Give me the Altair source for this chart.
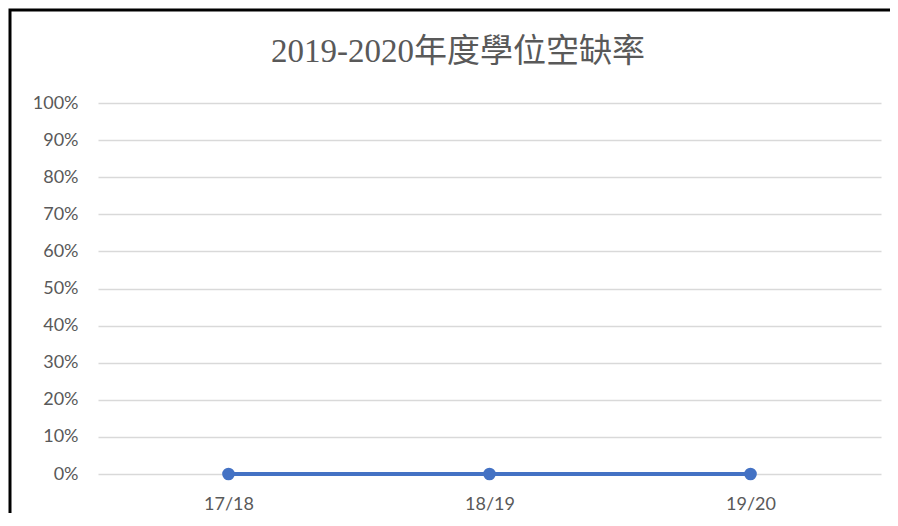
import altair as alt
import pandas as pd

title_text = "2019-2020年度學位空缺率"
years = ["17/18", "18/19", "19/20"]
vacancy = [0.0, 0.0, 0.0]
y_ticks = [0, 0.1, 0.2, 0.3, 0.4, 0.5, 0.6, 0.7, 0.8, 0.9, 1.0]

df = pd.DataFrame({"year": years, "rate": vacancy})

BLUE = "#4472C4"
GREY = "#595959"
LABEL_FONT = "Lato"

base = alt.Chart(df)

line = base.mark_line(color=BLUE, strokeWidth=4, point=alt.OverlayMarkDef(color=BLUE, size=160, filled=True, opacity=1)).encode(
    x=alt.X("year:O", sort=years, scale=alt.Scale(padding=0.5),
            axis=alt.Axis(title=None, labelAngle=0, domain=False, ticks=False, grid=False,
                          labelPadding=21, labelFontSize=18, labelColor=GREY, labelFont=LABEL_FONT)),
    y=alt.Y("rate:Q", scale=alt.Scale(domain=[0, 1]),
            axis=alt.Axis(title=None, values=y_ticks, format=".0%", domain=False, ticks=False,
                          gridColor="#D9D9D9", gridWidth=1.5, labelPadding=20,
                          labelFontSize=18, labelColor=GREY, labelFont=LABEL_FONT)),
)

border = alt.Chart(pd.DataFrame({"k": [0]})).mark_rect(filled=False, stroke="black", strokeWidth=3).encode(
    x=alt.value(-88), x2=alt.value(1000), y=alt.value(-93), y2=alt.value(700)
)

title = alt.Chart(pd.DataFrame({"k": [0]})).mark_text(
    font="Liberation Serif, Noto Sans CJK TC", fontSize=33, color=GREY,
    align="center", baseline="alphabetic"
).encode(x=alt.value(360), y=alt.value(-41), text=alt.value(title_text))

chart = alt.layer(line, border, title).properties(
    width=783,
    height=371,
    padding={"left": 90, "top": 95, "right": 9, "bottom": 39},
    autosize=alt.AutoSizeParams(type="none"),
    background="white",
).configure_view(stroke=None, strokeWidth=0)

chart.save("out.html", embed_options={"renderer": "svg", "actions": False})
